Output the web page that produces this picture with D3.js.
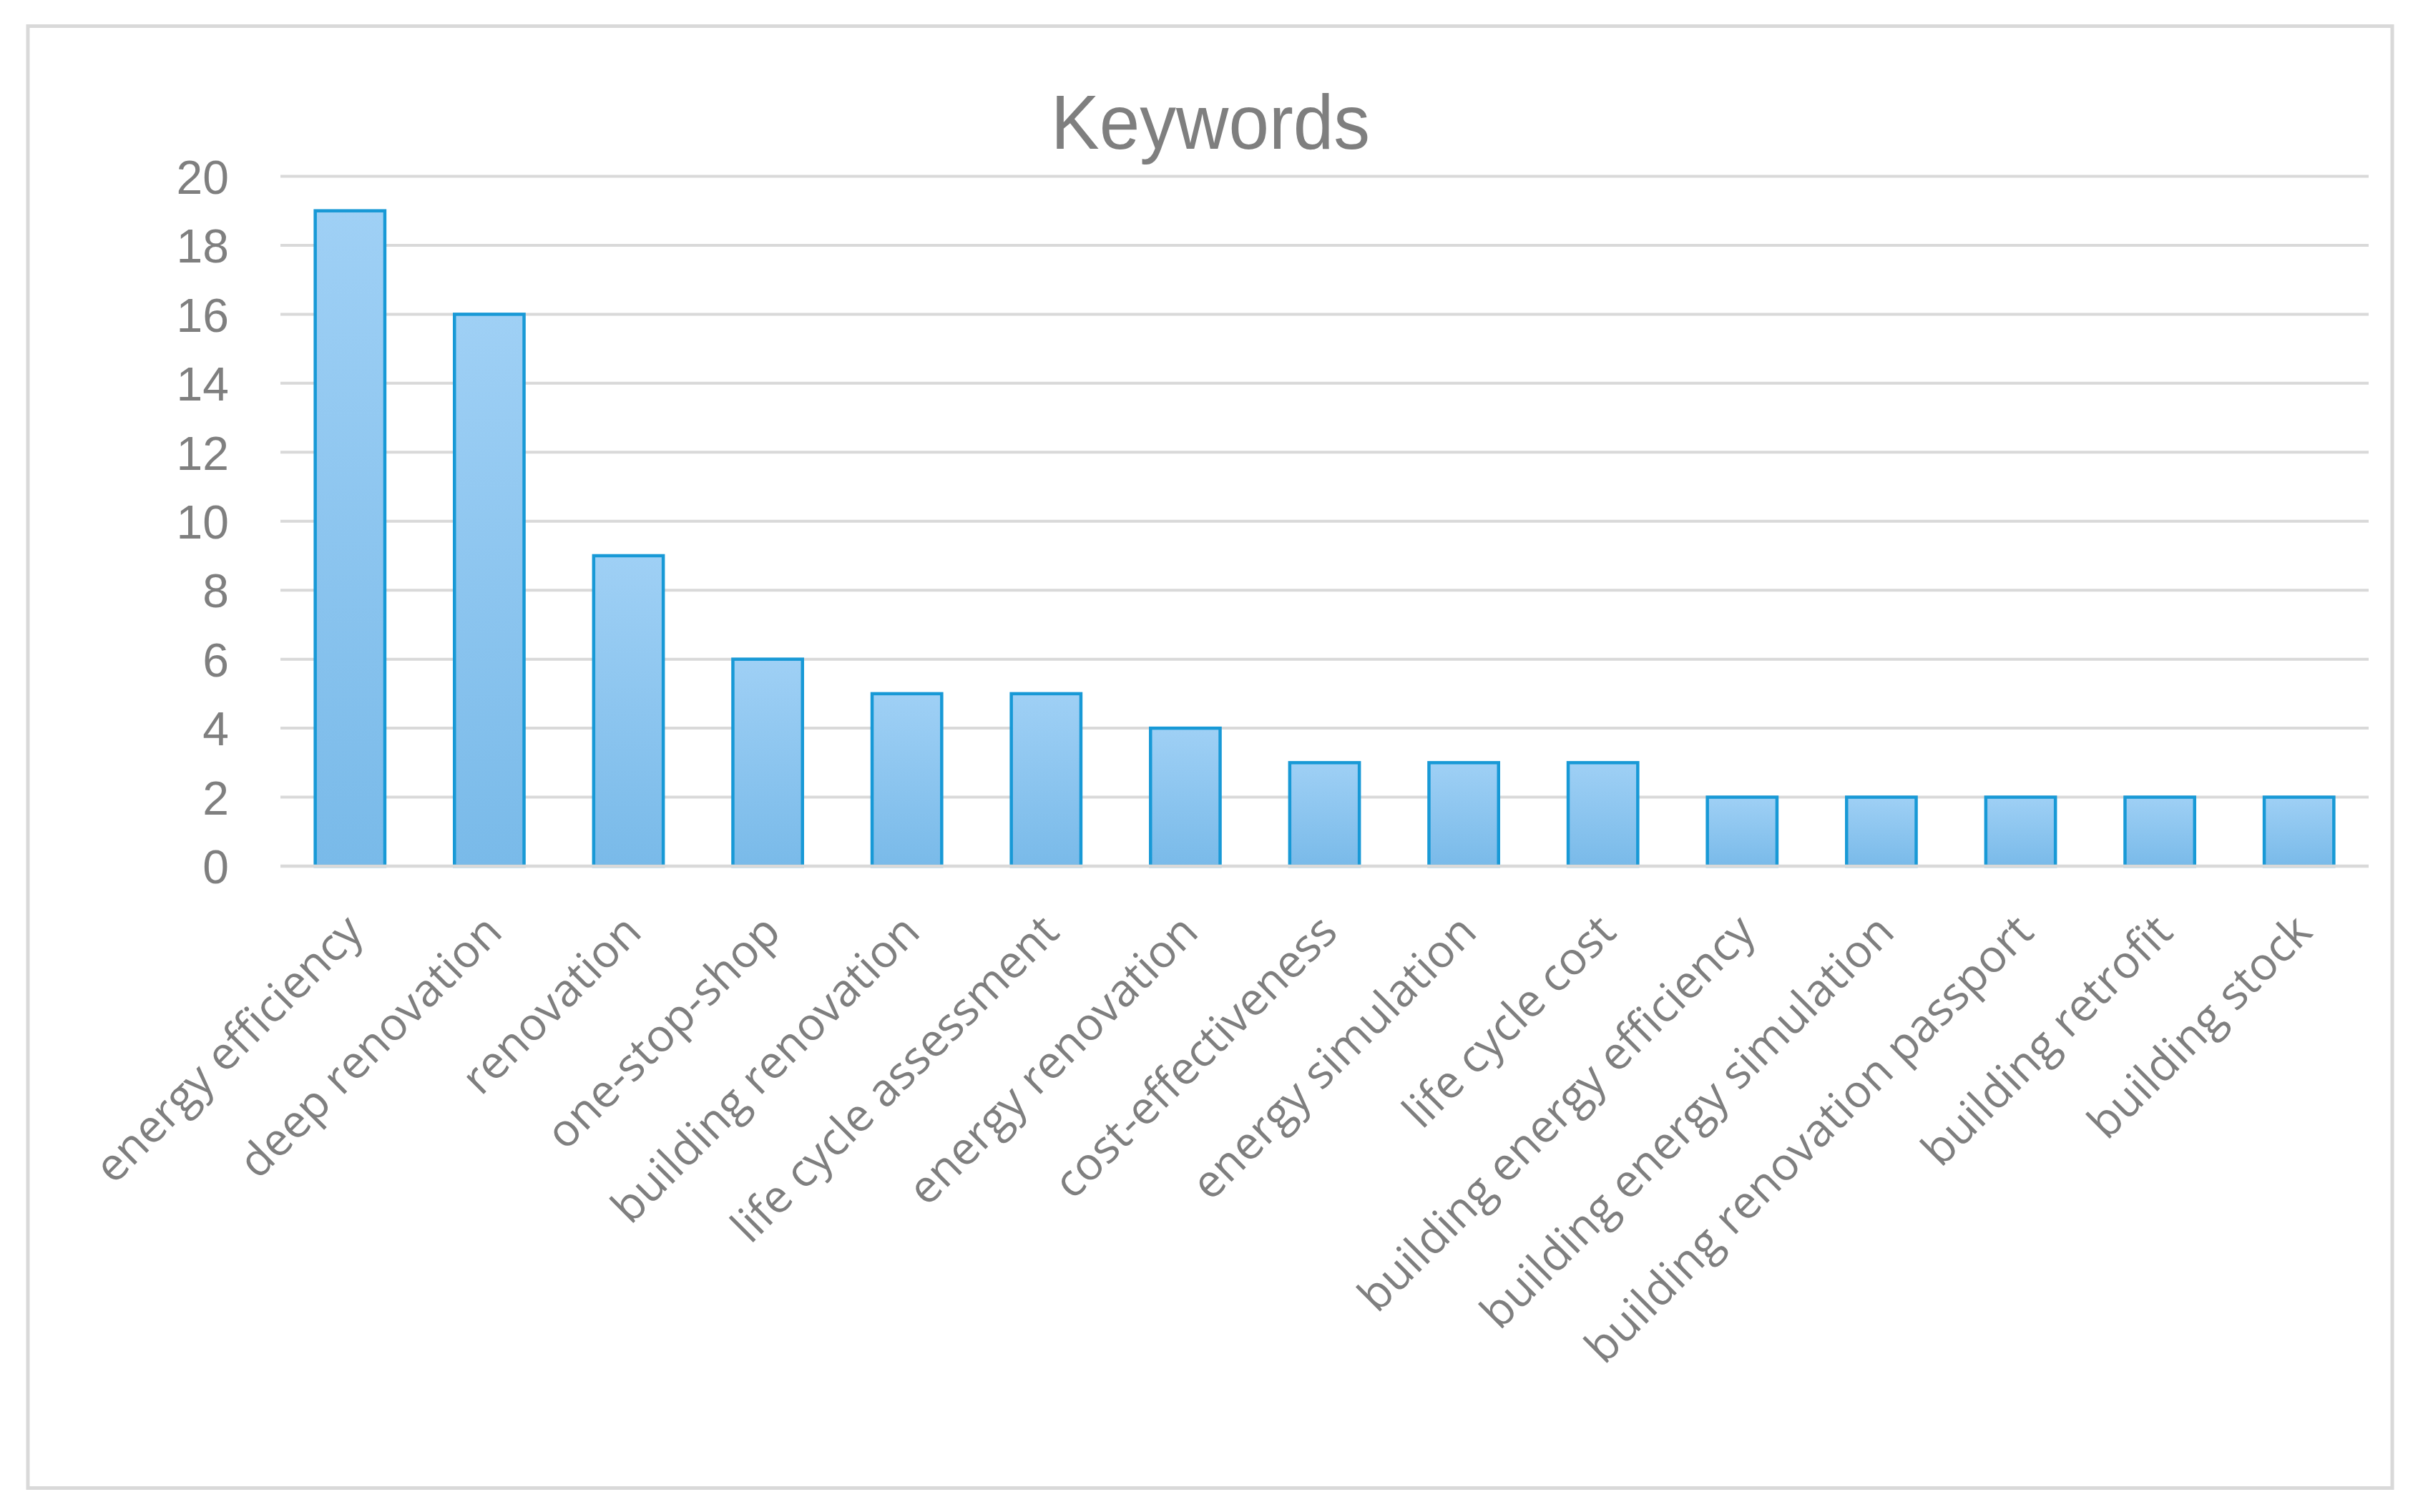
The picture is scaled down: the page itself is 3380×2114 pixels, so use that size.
<!DOCTYPE html>
<html>
<head>
<meta charset="utf-8">
<script src="https://cdn.jsdelivr.net/npm/d3@7/dist/d3.min.js"></script>
<style>
  html, body { margin: 0; padding: 0; background: #ffffff; }
  svg { display: block; }
</style>
</head>
<body>
<svg id="chart" width="3380" height="2114"></svg>
<script>
// ---- data ----
const title = "Keywords";
const categories = [
  "energy efficiency", "deep renovation", "renovation", "one-stop-shop",
  "building renovation", "life cycle assessment", "energy renovation",
  "cost-effectiveness", "energy simulation", "life cycle cost",
  "building energy efficiency", "building energy simulation",
  "building renovation passport", "building retrofit", "building stock"
];
const counts = [19, 16, 9, 6, 5, 5, 4, 3, 3, 3, 2, 2, 2, 2, 2];
const yTicks = [0, 2, 4, 6, 8, 10, 12, 14, 16, 18, 20];

// ---- layout ----
const W = 3380, H = 2114;
const plot = { left: 392, right: 3311, top: 246.5, bottom: 1211 };
const svg = d3.select("#chart");

svg.append("rect").attr("x", 0).attr("y", 0).attr("width", W).attr("height", H).attr("fill", "#ffffff");

// chart border
svg.append("rect")
  .attr("x", 39).attr("y", 36.5).attr("width", 3305).attr("height", 2044)
  .attr("fill", "#ffffff").attr("stroke", "#d9d9d9").attr("stroke-width", 5);

const x = d3.scaleBand().domain(categories)
  .range([plot.left, plot.right]).paddingInner(0.5).paddingOuter(0.25);
const y = d3.scaleLinear().domain([0, 20]).range([plot.bottom, plot.top]);

// gradient
const defs = svg.append("defs");
const grad = defs.append("linearGradient").attr("id", "barGrad")
  .attr("x1", 0).attr("y1", 0).attr("x2", 0).attr("y2", 1);
grad.append("stop").attr("offset", "0%").attr("stop-color", "#9fd0f5");
grad.append("stop").attr("offset", "100%").attr("stop-color", "#79bae9");

// gridlines
svg.append("g").selectAll("line").data(yTicks.filter(d => d !== 0)).join("line")
  .attr("x1", plot.left).attr("x2", plot.right)
  .attr("y1", d => y(d)).attr("y2", d => y(d))
  .attr("stroke", "#d9d9d9").attr("stroke-width", 4);

// y axis labels
const yAxis = svg.append("g").attr("transform", `translate(${plot.left - 72},0)`)
  .call(d3.axisLeft(y).tickValues(yTicks).tickSize(0).tickPadding(0).tickFormat(d3.format("d")));
yAxis.select(".domain").remove();
yAxis.selectAll("text")
  .attr("font-family", "'Liberation Sans', Arial, sans-serif")
  .attr("font-size", 66).attr("fill", "#7f7f7f").attr("dy", "0.36em");

// bars
svg.append("g").selectAll("rect").data(counts).join("rect")
  .attr("x", (d, i) => x(categories[i]))
  .attr("y", d => y(d))
  .attr("width", x.bandwidth())
  .attr("height", d => y(0) - y(d))
  .attr("fill", "url(#barGrad)")
  .attr("stroke", "#1899d6").attr("stroke-width", 4.5);

// baseline
svg.append("line")
  .attr("x1", plot.left).attr("x2", plot.right)
  .attr("y1", y(0)).attr("y2", y(0))
  .attr("stroke", "#d9d9d9").attr("stroke-width", 4.5);

// x axis labels
const xAxis = svg.append("g").attr("transform", `translate(0,${plot.bottom})`)
  .call(d3.axisBottom(x).tickSize(0).tickPadding(0));
xAxis.select(".domain").remove();
xAxis.selectAll(".tick text")
  .attr("font-family", "'Open Sans', 'Noto Sans', sans-serif")
  .attr("font-size", 63.5).attr("fill", "#7f7f7f")
  .attr("text-anchor", "end")
  .attr("x", 0).attr("y", 0).attr("dy", "0.74em")
  .attr("transform", "translate(-12,62) rotate(-45)");

// title
svg.append("text")
  .attr("x", 1692).attr("y", 208)
  .attr("text-anchor", "middle")
  .attr("font-family", "'Liberation Sans', Arial, sans-serif")
  .attr("font-size", 108).attr("fill", "#7f7f7f")
  .attr("textLength", 446).attr("lengthAdjust", "spacingAndGlyphs")
  .text(title);
</script>
</body>
</html>
